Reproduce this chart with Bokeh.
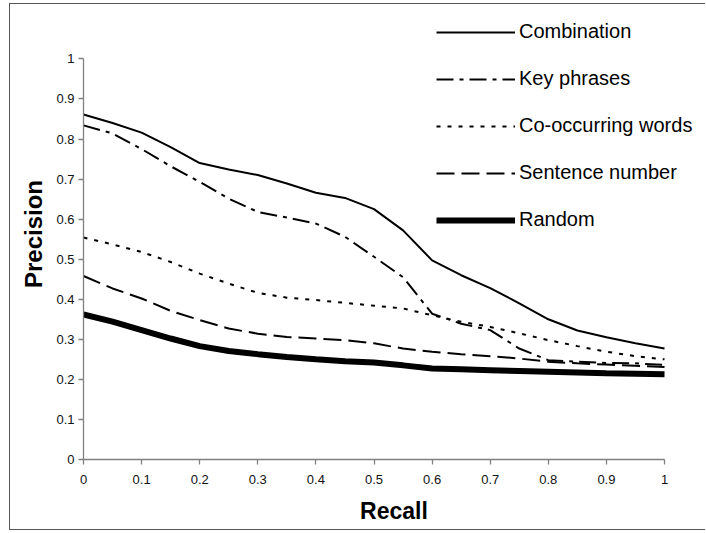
from bokeh.plotting import figure
from bokeh.models import Legend, LegendItem, FixedTicker, Range1d
from bokeh.embed import file_html
from bokeh.resources import INLINE

recall = [0.0, 0.05, 0.1, 0.15, 0.2, 0.25, 0.3, 0.35, 0.4, 0.45, 0.5,
          0.55, 0.6, 0.65, 0.7, 0.75, 0.8, 0.85, 0.9, 0.95, 1.0]

combination = [0.861, 0.840, 0.816, 0.780, 0.740, 0.724, 0.710, 0.689, 0.666, 0.653, 0.625,
               0.572, 0.497, 0.460, 0.428, 0.390, 0.350, 0.322, 0.305, 0.290, 0.277]
key_phrases = [0.834, 0.814, 0.775, 0.732, 0.693, 0.651, 0.618, 0.604, 0.589, 0.556, 0.506,
               0.455, 0.364, 0.339, 0.323, 0.277, 0.248, 0.244, 0.241, 0.240, 0.236]
co_occurring = [0.554, 0.537, 0.518, 0.493, 0.464, 0.439, 0.416, 0.404, 0.398, 0.391, 0.384,
                0.377, 0.360, 0.344, 0.331, 0.315, 0.298, 0.283, 0.269, 0.258, 0.250]
sentence_number = [0.458, 0.427, 0.402, 0.371, 0.348, 0.327, 0.314, 0.306, 0.302, 0.298, 0.290,
                   0.277, 0.269, 0.263, 0.258, 0.252, 0.244, 0.240, 0.237, 0.234, 0.231]
random_ = [0.362, 0.344, 0.323, 0.302, 0.283, 0.271, 0.263, 0.256, 0.250, 0.245, 0.242,
           0.235, 0.227, 0.225, 0.223, 0.221, 0.219, 0.217, 0.215, 0.214, 0.213]

series_names = ["Combination", "Key phrases", "Co-occurring words", "Sentence number", "Random"]

x_ticks = [0.0, 0.1, 0.2, 0.3, 0.4, 0.5, 0.6, 0.7, 0.8, 0.9, 1.0]
x_tick_labels = ["0", "0.1", "0.2", "0.3", "0.4", "0.5", "0.6", "0.7", "0.8", "0.9", "1"]
y_ticks = [0.0, 0.1, 0.2, 0.3, 0.4, 0.5, 0.6, 0.7, 0.8, 0.9, 1.0]
y_tick_labels = ["0", "0.1", "0.2", "0.3", "0.4", "0.5", "0.6", "0.7", "0.8", "0.9", "1"]

FONT = "Liberation Sans"

# frame extends past the axes so the legend (which overhangs the axes) is not clipped;
# the axes themselves are bounded to [0, 1]
p = figure(width=696, height=527, output_backend="svg", toolbar_location=None,
           x_range=Range1d(0, 1.0688), y_range=Range1d(0, 1.1258),
           min_border_left=73, min_border_right=2, min_border_top=4, min_border_bottom=72)
p.styles = {"margin-left": "9px", "margin-top": "3px",
            "border-left": "1px solid #555555", "border-top": "1px solid #555555",
            "border-bottom": "1px solid #555555"}
p.outline_line_color = None
p.xgrid.visible = False
p.ygrid.visible = False
p.background_fill_color = "white"
p.border_fill_color = "white"

for ax, ticks, labels in ((p.xaxis[0], x_ticks, x_tick_labels), (p.yaxis[0], y_ticks, y_tick_labels)):
    ax.ticker = FixedTicker(ticks=ticks, minor_ticks=[])
    ax.bounds = (ticks[0], ticks[-1])
    ax.major_label_overrides = dict(zip(ticks, labels))
    ax.axis_line_color = "#808080"
    ax.axis_line_width = 1.3
    ax.major_tick_line_color = "#808080"
    ax.major_tick_line_width = 1.3
    ax.major_tick_out = 5
    ax.major_tick_in = 0
    ax.minor_tick_line_color = None
    ax.major_label_text_font = FONT
    ax.major_label_text_font_size = "13px"
    ax.major_label_text_color = "#111111"
    ax.axis_label_text_font = FONT
    ax.axis_label_text_font_style = "bold"
    ax.axis_label_text_color = "#000000"

p.xaxis.axis_label = "Recall"
p.xaxis.axis_label_text_font_size = "23px"
p.xaxis.major_label_standoff = 10
p.xaxis.axis_label_standoff = 11
p.yaxis.axis_label = "Precision"
p.yaxis.axis_label_text_font_size = "24px"
p.yaxis.major_label_standoff = 4
p.yaxis.axis_label_standoff = 6

r1 = p.line(recall, combination, line_color="black", line_width=2)
r2 = p.line(recall, key_phrases, line_color="black", line_width=2, line_dash="17 6 4 6")
r3 = p.line(recall, co_occurring, line_color="black", line_width=2, line_dash="4 7")
r4 = p.line(recall, sentence_number, line_color="black", line_width=2, line_dash="18 7")
r5 = p.line(recall, random_, line_color="black", line_width=6)

legend = Legend(items=[LegendItem(label=n, renderers=[r]) for n, r in
                       zip(series_names, [r1, r2, r3, r4, r5])],
                location=(353, 228), orientation="vertical")
legend.glyph_width = 79
legend.glyph_height = 20
legend.label_height = 20
legend.spacing = 24
legend.label_standoff = 4
legend.padding = 0
legend.margin = 0
legend.border_line_color = None
legend.background_fill_alpha = 0
legend.label_text_font = FONT
legend.label_text_font_size = "20px"
legend.label_text_color = "#000000"
p.add_layout(legend)

open("out.html", "w").write(file_html(p, INLINE))
